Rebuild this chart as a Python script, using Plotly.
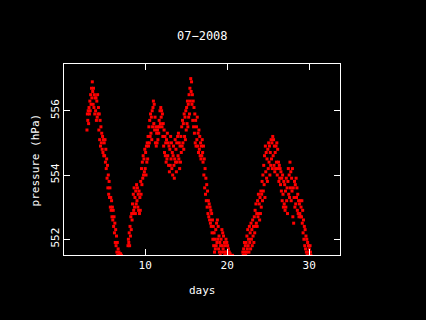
import plotly.graph_objects as go

# Sampling grid: every 0.05 day starting at day 2.90
day_start = 2.90
day_step = 0.05

# Pressure readings (hPa), one row per day
p_day02 = [555.4, 555.9]
p_day03 = [555.7, 556.0, 555.6, 556.1, 555.9, 556.3, 556.0, 556.5, 556.2, 556.7,
           556.4, 556.9, 556.6, 556.2, 556.7, 556.1, 556.5, 555.9, 556.4, 556.0]
p_day04 = [556.4, 555.7, 556.3, 555.8, 556.5, 555.9, 556.1, 555.4, 555.9, 555.1,
           555.7, 554.9, 555.5, 555.0, 555.3, 554.8, 555.2, 554.7, 555.1, 554.6]
p_day05 = [555.0, 554.6, 555.1, 554.4, 554.8, 554.2, 554.5, 553.9, 554.3, 553.6,
           554.0, 553.4, 553.8, 553.3, 553.6, 553.0, 553.3, 552.9, 553.2, 552.7]
p_day06 = [553.0, 552.6, 552.9, 552.4, 552.7, 552.2, 552.5, 551.9, 552.3, 551.8,
           552.1, 551.6, 551.9, 551.5, 551.7, 551.4, 551.6, 551.3, 551.55, 551.2]
p_day07 = [551.55, 551.3, 551.5, 551.2, 551.1, 551.0, 550.9, 550.8, 550.9, 550.7,
           550.8, 550.9, 551.0, 551.1, 551.2, 551.3, 551.4, 551.3, 551.8, 552.0]
p_day08 = [551.9, 552.2, 551.8, 552.4, 552.1, 552.7, 552.3, 552.8, 552.6, 553.1,
           552.8, 553.4, 552.9, 553.6, 553.0, 553.3, 552.8, 553.5, 553.1, 553.7]
p_day09 = [553.2, 553.6, 553.0, 553.4, 552.9, 553.5, 552.8, 553.3, 552.9, 553.8,
           553.4, 554.2, 553.7, 554.4, 553.9, 554.6, 554.0, 554.5, 554.1, 554.8]
p_day10 = [554.2, 554.7, 554.0, 554.9, 554.4, 555.0, 554.5, 555.2, 554.9, 555.5,
           555.0, 555.7, 555.2, 555.9, 555.3, 555.8, 555.1, 556.0, 555.5, 556.1]
p_day11 = [556.3, 555.6, 556.2, 555.4, 555.8, 555.0, 555.5, 554.9, 555.3, 555.0,
           555.4, 555.1, 555.5, 555.3, 555.7, 555.5, 556.0, 555.6, 556.1, 555.8]
p_day12 = [556.0, 555.5, 555.9, 555.2, 555.6, 554.9, 555.4, 554.7, 555.2, 554.6,
           555.0, 554.4, 555.1, 554.5, 555.3, 554.6, 555.0, 554.3, 554.9, 554.1]
p_day13 = [554.8, 554.3, 555.2, 554.5, 555.0, 554.2, 554.7, 554.0, 554.6, 554.9,
           554.3, 553.9, 554.5, 555.1, 554.4, 554.8, 554.1, 555.0, 554.4, 555.2]
p_day14 = [554.6, 555.3, 554.5, 555.0, 554.2, 554.9, 554.4, 555.2, 554.7, 555.5,
           554.9, 555.7, 555.0, 555.6, 554.8, 555.9, 555.2, 555.8, 555.1, 556.0]
p_day15 = [555.4, 556.1, 555.6, 556.3, 555.5, 556.2, 555.8, 556.5, 555.9, 556.7,
           556.3, 557.0, 556.6, 556.9, 556.2, 556.5, 555.7, 556.3, 555.5, 556.1]
p_day16 = [555.3, 555.9, 555.0, 555.7, 554.9, 555.5, 555.1, 555.8, 554.9, 555.3,
           554.7, 555.4, 554.8, 555.2, 554.6, 555.0, 554.5, 554.9, 554.6, 555.1]
p_day17 = [554.7, 554.4, 554.9, 554.0, 554.5, 553.6, 554.2, 553.4, 553.9, 553.2,
           553.7, 553.0, 553.5, 552.8, 553.2, 552.7, 553.1, 552.6, 553.0, 552.5]
p_day18 = [552.9, 552.4, 552.8, 552.2, 552.6, 552.0, 552.4, 551.8, 552.2, 551.6,
           552.0, 551.7, 552.3, 551.8, 552.5, 551.9, 552.6, 552.0, 552.4, 551.7]
p_day19 = [552.1, 551.6, 551.9, 551.5, 551.8, 552.0, 551.6, 552.3, 551.8, 552.2,
           551.7, 552.1, 551.6, 551.9, 551.5, 551.8, 551.6, 552.0, 551.6, 551.9]
p_day20 = [551.5, 551.8, 551.6, 551.7, 551.5, 551.6, 551.4, 551.55, 551.3, 551.2,
           551.3, 551.1, 551.2, 551.5, 551.3, 551.0, 550.9, 551.0, 550.8, 550.9]
p_day21 = [550.8, 550.7, 550.8, 550.9, 550.8, 550.9, 551.0, 550.9, 551.0, 551.1,
           551.0, 551.2, 551.1, 551.3, 551.2, 551.4, 551.3, 551.45, 551.6, 551.5]
p_day22 = [551.7, 551.5, 551.9, 551.6, 551.8, 551.5, 551.9, 551.6, 552.1, 551.7,
           552.3, 551.8, 552.0, 551.6, 552.4, 551.9, 552.2, 551.7, 552.5, 552.0]
p_day23 = [552.3, 551.8, 552.6, 552.1, 552.4, 551.9, 552.7, 552.2, 552.9, 552.4,
           553.1, 552.5, 552.8, 552.4, 553.2, 552.7, 553.4, 552.8, 553.1, 552.6]
p_day24 = [553.3, 552.8, 553.5, 553.0, 553.4, 553.8, 553.2, 554.0, 553.5, 554.3,
           553.7, 554.6, 553.3, 554.9, 554.1, 554.7, 553.9, 554.5, 553.8, 554.8]
p_day25 = [554.2, 555.0, 554.4, 554.9, 554.0, 554.7, 554.3, 555.1, 554.5, 555.0,
           554.2, 555.2, 554.6, 555.1, 554.3, 554.9, 554.1, 554.7, 554.2, 554.9]
p_day26 = [554.4, 555.0, 554.0, 554.8, 554.2, 554.4, 553.8, 554.3, 553.9, 554.2,
           553.7, 554.1, 553.5, 553.9, 553.2, 554.0, 553.4, 553.0, 553.8, 553.1]
p_day27 = [553.7, 552.9, 553.5, 553.0, 553.9, 553.2, 553.6, 552.8, 553.8, 554.2,
           553.4, 554.0, 553.3, 554.4, 553.6, 554.1, 553.2, 553.9, 553.5, 554.2]
p_day28 = [552.7, 553.6, 552.5, 553.3, 553.8, 553.0, 553.7, 553.1, 553.9, 553.3,
           553.6, 552.9, 553.4, 552.8, 553.2, 552.7, 553.1, 552.8, 553.2, 552.7]
p_day29 = [553.0, 552.7, 553.2, 552.5, 552.9, 552.2, 552.6, 552.0, 552.4, 551.8,
           552.3, 551.7, 552.1, 551.6, 552.0, 551.5, 551.9, 551.6, 551.8, 551.5]
p_day30 = [551.7, 551.5, 551.8, 551.6, 551.5]

pressure = (p_day02 + p_day03 + p_day04 + p_day05 + p_day06 + p_day07 + p_day08
            + p_day09 + p_day10 + p_day11 + p_day12 + p_day13 + p_day14 + p_day15
            + p_day16 + p_day17 + p_day18 + p_day19 + p_day20 + p_day21 + p_day22
            + p_day23 + p_day24 + p_day25 + p_day26 + p_day27 + p_day28 + p_day29
            + p_day30)
days = [round(day_start + i * day_step, 2) for i in range(len(pressure))]

x_ticks = [10, 20, 30]
y_ticks = [552, 554, 556]
title_text = "07\u22122008"
x_label = "days"
y_label = "pressure (hPa)"

FONT = "DejaVu Sans Mono"

fig = go.Figure()
fig.add_trace(go.Scatter(
    x=days, y=pressure, mode="markers",
    marker=dict(symbol="square", size=3, color="#ff0000", line=dict(width=0)),
    hoverinfo="skip", showlegend=False,
))

axis_common = dict(
    showgrid=False, zeroline=False,
    showline=True, linecolor="white", linewidth=1, mirror="ticks",
    ticks="inside", ticklen=6, tickwidth=1, tickcolor="white",
    tickfont=dict(family=FONT, size=11, color="white"),
)

fig.update_layout(
    width=426, height=320,
    paper_bgcolor="black", plot_bgcolor="black",
    margin=dict(l=64, r=86, t=64, b=65),
    xaxis=dict(range=[0.1, 33.75], tickvals=x_ticks, ticktext=[str(v) for v in x_ticks], **axis_common),
    yaxis=dict(range=[551.51, 557.455], tickvals=y_ticks, ticktext=[str(v) for v in y_ticks],
               tickangle=-90, **axis_common),
    annotations=[
        dict(text=title_text, x=0.5, y=1.1466, xref="paper", yref="paper",
             xanchor="center", yanchor="middle", showarrow=False,
             font=dict(family=FONT, size=12, color="white")),
        dict(text=x_label, x=0.5, y=-0.187, xref="paper", yref="paper",
             xanchor="center", yanchor="middle", showarrow=False,
             font=dict(family=FONT, size=11, color="white")),
        dict(text=y_label, x=-0.1015, y=0.5, xref="paper", yref="paper",
             xanchor="center", yanchor="middle", showarrow=False, textangle=-90,
             font=dict(family=FONT, size=11, color="white")),
    ],
)

fig.write_html(
    "out.html",
    config={"displayModeBar": False},
    post_script="document.body.style.margin='0';document.body.style.padding='0';"
                "document.body.style.background='black';",
)
